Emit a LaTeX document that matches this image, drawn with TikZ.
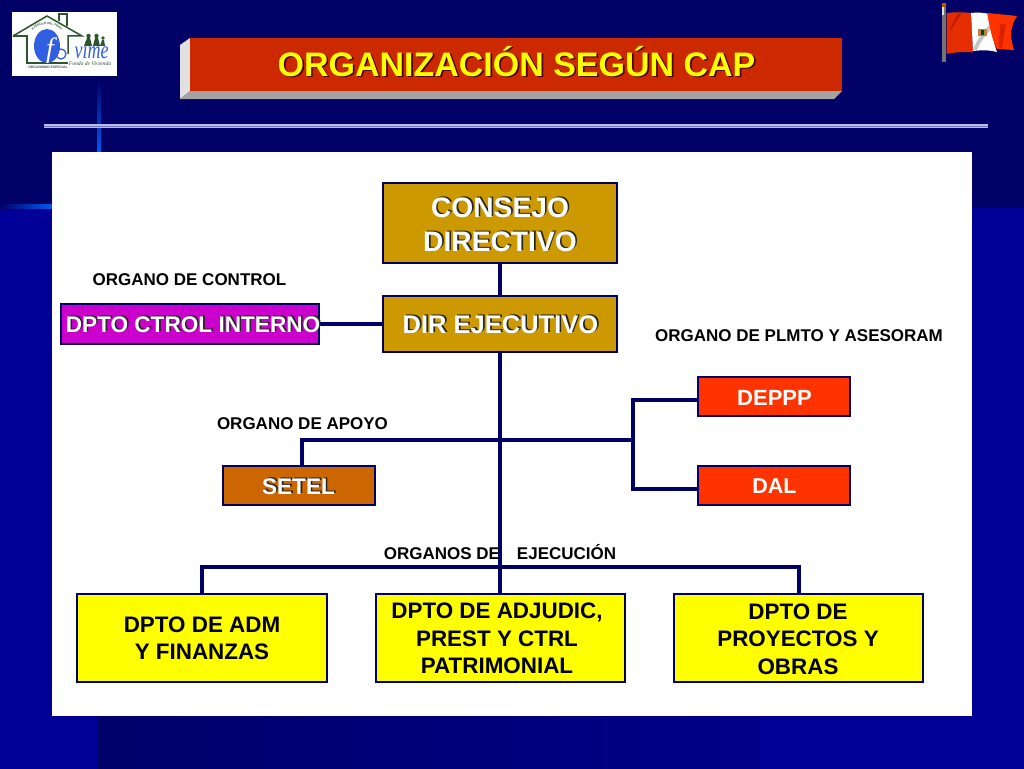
\documentclass[tikz,border=0pt]{standalone}
\usepackage{fontspec}
\setmainfont{Liberation Sans}
\newfontfamily\serifit{Liberation Serif}
\usetikzlibrary{shadings,decorations.text}
\definecolor{navyA}{RGB}{0,0,102}
\definecolor{navyB}{RGB}{0,0,153}
\definecolor{navyC}{RGB}{0,0,90}
\definecolor{lineC}{RGB}{0,0,102}
\definecolor{gold}{RGB}{204,153,0}
\definecolor{magA}{RGB}{204,0,204}
\definecolor{redA}{RGB}{255,51,0}
\definecolor{brownA}{RGB}{204,102,0}
\definecolor{titleR}{RGB}{204,41,0}
\definecolor{glow}{RGB}{0,90,240}
\definecolor{yelA}{RGB}{255,255,0}
\definecolor{logoG}{RGB}{45,85,45}
\definecolor{logoB}{RGB}{50,95,225}
\definecolor{ruleA}{RGB}{185,185,235}
\definecolor{ruleB}{RGB}{120,120,200}
\pgfdeclarehorizontalshading{stripS}{100bp}{color(0bp)=(navyC); color(100bp)=(navyB)}
\tikzset{
 x=1pt,y=-1pt,
 box/.style={draw=lineC,line width=2pt,inner sep=0pt,outer sep=0pt,align=center,font=\bfseries,text=black,anchor=north west},
 shadowtxt/.style={inner sep=0pt,align=center,font=\bfseries},
 lbl/.style={inner sep=0pt,font=\bfseries\fontsize{17}{20}\selectfont,text=black,anchor=center},
 conn/.style={draw=lineC,line width=4pt},
}
\newcommand{\shtxt}[4]{%
 \node[shadowtxt,text=black!85,font=\bfseries\fontsize{#3}{#4}\selectfont] at ([shift={(1.6pt,1.6pt)}]#1) {#2};%
 \node[shadowtxt,text=white,font=\bfseries\fontsize{#3}{#4}\selectfont] at (#1) {#2};}
\begin{document}
\begin{tikzpicture}
\useasboundingbox (0,0) rectangle (1024,768);
\begin{scope}
\clip (-2,-2) rectangle (1026,772);
\fill[navyA] (-2,-2) rectangle (1026,772);
\fill[navyB] (-2,207) rectangle (98,772);
\fill[navyB] (972,208) rectangle (1026,772);
\fill[navyB] (760,716) rectangle (1026,772);
\shade[shading=stripS] (98,716) rectangle (760,772);
\end{scope}
\shade[left color=navyA,right color=glow] (0,204) rectangle (52,208);
\shade[top color=navyA,bottom color=glow] (97,78) rectangle (101,152);
% logo
\fill[white] (12,12) rectangle (117,76);
\draw[logoG,line width=1.5pt,line join=miter] (13,36) -- (47,16) -- (82,36) -- (68,36) -- (68,54);
\draw[logoG,line width=1.5pt,line join=miter] (13,36) -- (27,36) -- (27,63) -- (68,63);
\draw[logoG,line width=1.4pt] (59,21) -- (59,14) -- (67,14) -- (67,26);
\fill[logoB] (47,46) ellipse (13 and 17);
\path[decorate,decoration={text along path,text={|\bfseries\fontsize{3}{4}\selectfont\color{logoG}|EJERCITO DEL PERU},text align=center}] (31,33) .. controls (36,22) and (58,22) .. (63,33);
\node[inner sep=0pt,text=logoB,xscale=.72,transform shape,font=\serifit\itshape\fontsize{25}{26}\selectfont] (logotxt) at (91.5,50) {vime};
\node[inner sep=0pt,text=white,font=\serifit\itshape\fontsize{28}{30}\selectfont] (logof) at (50,51) {f};
\draw[logoB,line width=1.3pt] (61,54) circle (5);
\fill[logoG] (87,38) -- (90,38) -- (92,46) -- (84,46) -- cycle (95,38) -- (98,38) -- (100,46) -- (93,46) -- cycle (102,40) -- (104,40) -- (105,46) -- (100,46) -- cycle;
\fill[logoG] (88.5,36) circle (2.2) (96.5,36) circle (2.2) (103,38) circle (1.8);
\node[inner sep=0pt,text=logoG,font=\serifit\itshape\fontsize{5.6}{6}\selectfont] (logosub) at (90,64) {Fondo de Vivienda};
\node[inner sep=0pt,text=black!70,font=\bfseries\fontsize{3.4}{4}\selectfont] (logoorg) at (48,67) {ORGANISMO ESPECIAL};
% flag
\fill[black!55] (942,4) rectangle (946,62);
\fill[black!12] (942,4) rectangle (943.6,15);
\fill[orange!70!black] (942,3) rectangle (946,7);
\fill[redA!90!black] (946.5,13) .. controls (955,12) and (962,12) .. (971,13) -- (973,52) .. controls (964,52) and (955,52) .. (946.5,54) -- cycle;
\fill[red!55!black,opacity=.45] (958,14) .. controls (954,20) and (951,25) .. (950,32) .. controls (953,26) and (957,20) .. (961,14) -- cycle;
\fill[white] (971,13) .. controls (978,12) and (984,13) .. (990,14) .. controls (992,30) and (993,42) .. (997,52) .. controls (990,50) and (982,50) .. (973,51) -- cycle;
\fill[black!45,opacity=.5] (992,22) .. controls (985,30) and (977,38) .. (973,50) -- (977,50) .. controls (981,40) and (988,32) .. (993,28) -- cycle;
\fill[redA] (987,13) -- (1017,16) .. controls (1011,26) and (1009,34) .. (1014,50) -- (997,49) .. controls (992,40) and (990,28) .. (987,13) -- cycle;
\fill[red!60!black,opacity=.35] (1000,24) -- (1006,24) -- (1002,48) -- (999,48) -- cycle;
\fill[brown] (978,29) rectangle (987,36);
\fill[green!30!black] (981,30) rectangle (984,35);
% title bar
\fill[black!12] (180,45) -- (190,38) -- (190,91) -- (180,99) -- cycle;
\fill[black!36] (180,99) -- (190,91) -- (842,91) -- (834,99) -- cycle;
\fill[titleR] (190,38) rectangle (842,91);
\node[inner sep=0pt,anchor=base,text=black!70!red,font=\bfseries\fontsize{34}{38}\selectfont] (titleshadow) at (518.2,77.8) {ORGANIZACIÓN SEGÚN CAP};
\node[inner sep=0pt,anchor=base,text=yelA,font=\bfseries\fontsize{34}{38}\selectfont] (title) at (516.5,76) {ORGANIZACIÓN SEGÚN CAP};
% rule
\fill[ruleA] (44,124.3) rectangle (988,128.2);
\fill[ruleB] (44,125.8) rectangle (988,126.7);
% panel
\fill[white] (52,152) rectangle (972,716);
% boxes
\node[box,fill=gold,minimum width=234pt,minimum height=80pt] (consejo) at (383,183) {};
\node[box,fill=gold,minimum width=234pt,minimum height=56pt] (dir) at (383,296) {};
\node[box,fill=magA,minimum width=258pt,minimum height=40pt] (ctrol) at (61,304) {};
\node[box,fill=redA,minimum width=152pt,minimum height=39pt] (deppp) at (698,377) {};
\node[box,fill=redA,minimum width=152pt,minimum height=39pt] (dal) at (698,466) {};
\node[box,fill=brownA,minimum width=152pt,minimum height=39pt] (setel) at (223,466) {};
\node[box,fill=yelA,minimum width=249.5pt,minimum height=88pt] (adm) at (77,594) {};
\node[box,fill=yelA,minimum width=249pt,minimum height=88pt] (adj) at (375.5,594) {};
\node[box,fill=yelA,minimum width=249pt,minimum height=88pt] (pro) at (674,594) {};
% connectors
\coordinate (j1) at (500,440);
\coordinate (j2) at (500,567);
\coordinate (jr) at (633,440);
\coordinate (jd) at (633,400);
\coordinate (ja) at (633,489);
\coordinate (js) at (302,440);
\draw[conn] (consejo.south -| j1) -- (dir.north -| j1);
\draw[conn] (dir.south -| j1) -- (adj.north -| j1);
\draw[conn] (ctrol.east) -- (ctrol.east -| dir.west);
\draw[conn,line join=miter] (setel.north -| js) -- (js) -- (jr);
\draw[conn,line join=miter] (deppp.west |- jd) -- (jd) -- (ja) -- (dal.west |- ja);
\draw[conn,line join=miter] (adm.north) -- (adm.north |- j2) -- (pro.north |- j2) -- (pro.north);
% texts
\shtxt{500,225}{CONSEJO\\DIRECTIVO}{28.2}{34}
\shtxt{500.5,325}{DIR EJECUTIVO}{25.5}{29}
\shtxt{193,325}{DPTO CTROL INTERNO}{22.6}{26}
\shtxt{298.5,487}{SETEL}{22.6}{26}
\node[shadowtxt,text=white,font=\bfseries\fontsize{22}{26}\selectfont] (t1) at (774.5,397.5) {DEPPP};
\node[shadowtxt,text=white,font=\bfseries\fontsize{21.5}{26}\selectfont] (t2) at (774.5,486.5) {DAL};
\node[shadowtxt,text=black,font=\bfseries\fontsize{22.4}{27.3}\selectfont] (t3) at (202,638.5) {DPTO DE ADM\\Y FINANZAS};
\node[shadowtxt,text=black,font=\bfseries\fontsize{22.4}{27.3}\selectfont] (t4) at (497,638.5) {DPTO DE ADJUDIC,\\PREST Y CTRL\\PATRIMONIAL};
\node[shadowtxt,text=black,font=\bfseries\fontsize{22.4}{27.3}\selectfont] (t5) at (798,639) {DPTO DE\\PROYECTOS Y\\OBRAS};
\node[lbl] (l1) at (189.5,280) {ORGANO DE CONTROL};
\node[lbl] (l2) at (799,335.2) {ORGANO DE PLMTO Y ASESORAM};
\node[lbl] (l3) at (302.5,423.7) {ORGANO DE APOYO};
\node[lbl] (l4) at (500,552.5) {ORGANOS DE\hspace{1em}EJECUCIÓN};
\end{tikzpicture}
\end{document}
